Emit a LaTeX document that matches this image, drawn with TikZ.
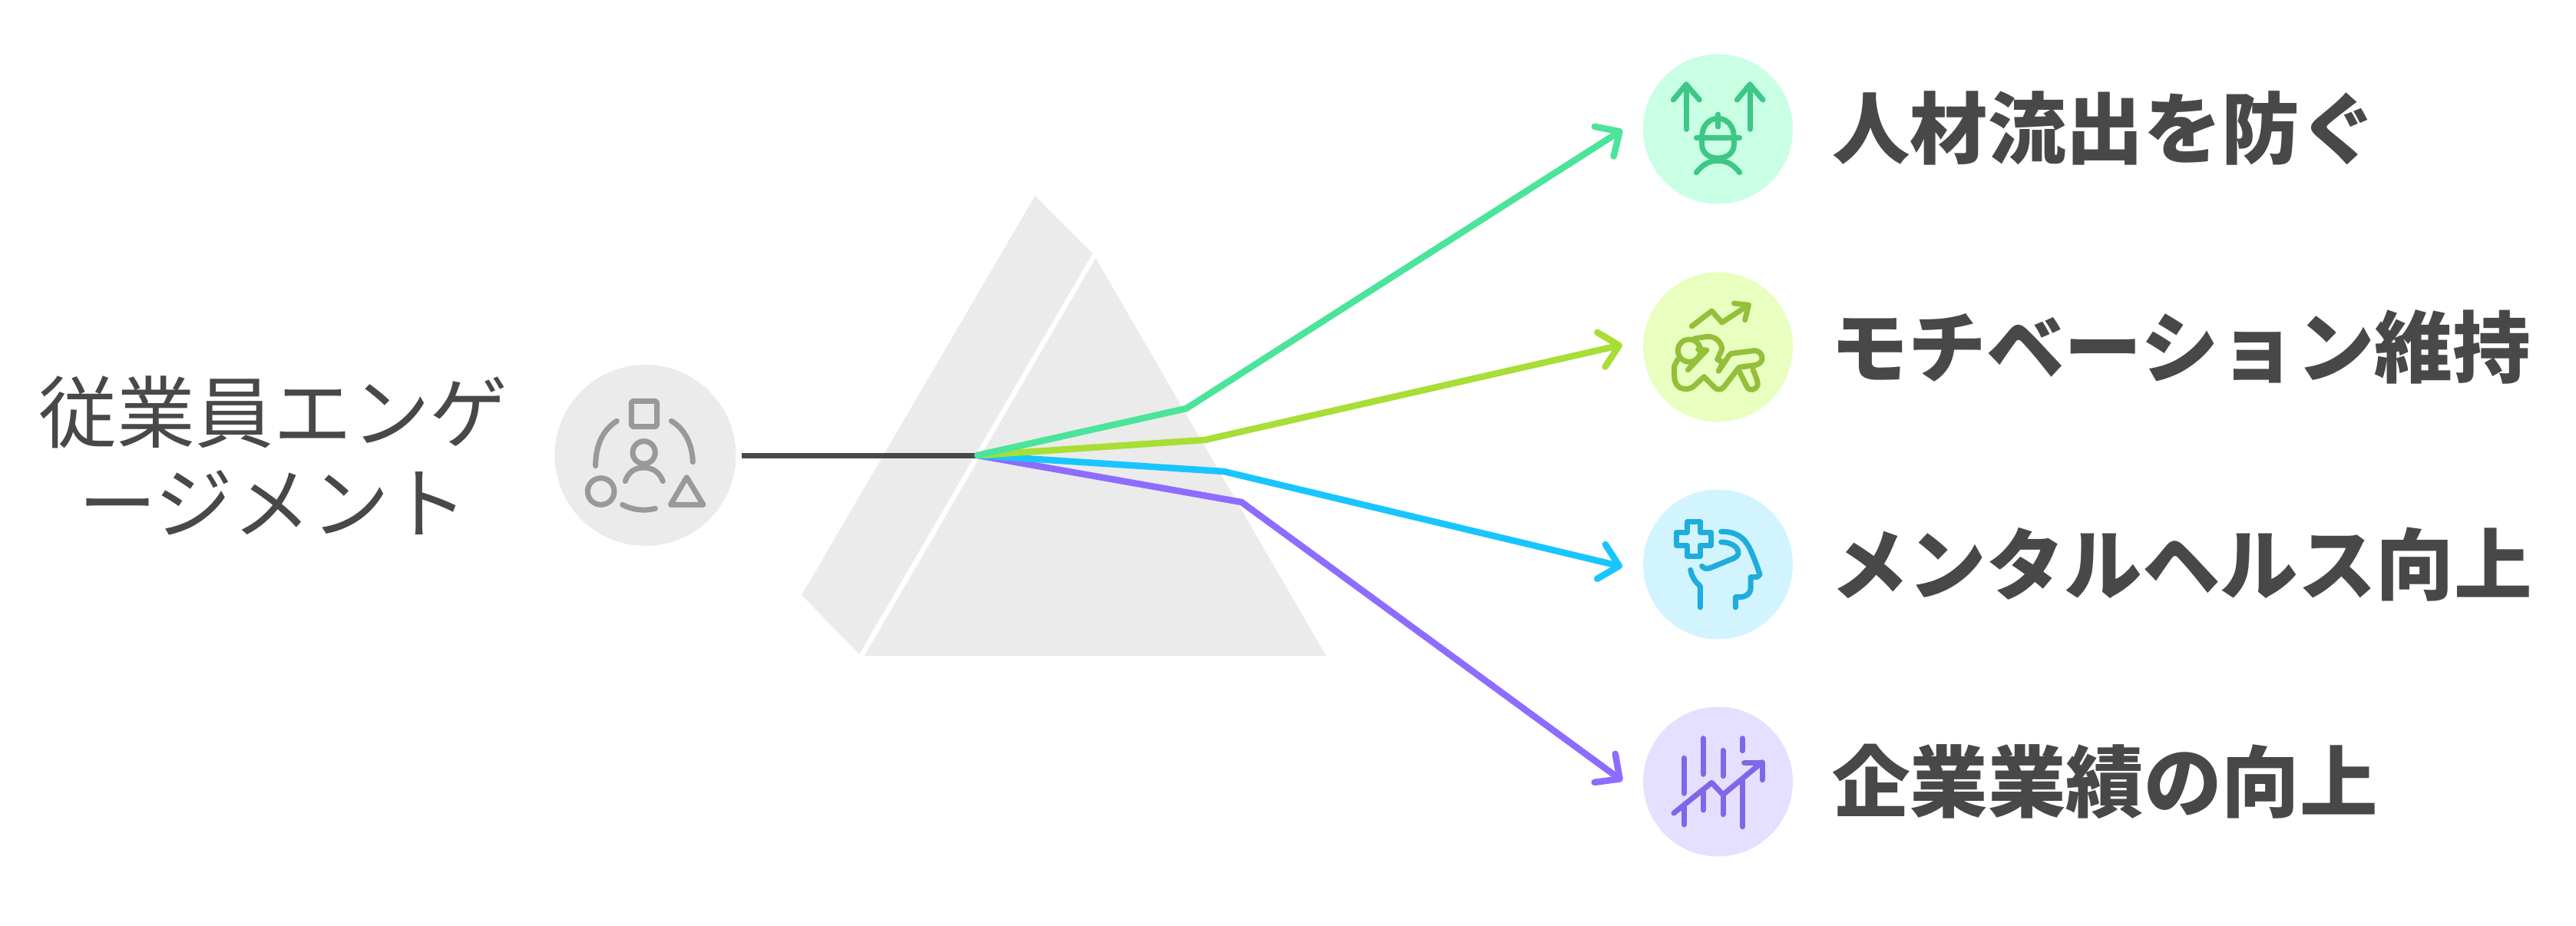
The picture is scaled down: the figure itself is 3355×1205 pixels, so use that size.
\documentclass[tikz,border=0pt]{standalone}
\usepackage{fontspec}
\usetikzlibrary{arrows.meta}
\newfontfamily\cjk{Noto Sans CJK JP}
\definecolor{txt}{HTML}{484848}
\definecolor{prism}{HTML}{EBEBEB}
\definecolor{lnG}{HTML}{4AE49A}\definecolor{bgG}{HTML}{C8FFE5}\definecolor{icG}{HTML}{3EC785}
\definecolor{lnL}{HTML}{A8DE35}\definecolor{bgL}{HTML}{E8FFBF}\definecolor{icL}{HTML}{94BF3A}
\definecolor{lnB}{HTML}{19C5FF}\definecolor{bgB}{HTML}{D2F4FF}\definecolor{icB}{HTML}{1EADDC}
\definecolor{lnP}{HTML}{8D6CFF}\definecolor{bgP}{HTML}{E5E0FF}\definecolor{icP}{HTML}{8067E8}
\definecolor{icK}{HTML}{999999}
\tikzset{
  disc/.style={circle,inner sep=0pt,minimum size=195pt,draw=none},
  ray/.style={line width=8.5pt,line join=miter,-{Straight Barb[length=24pt,width=46pt,round]}},
  iconline/.style={line width=7pt,line cap=round,line join=round,fill=none},
  head/.style={font=\cjk\bfseries\fontsize{101.5}{101.5}\selectfont,text=txt,anchor=west,inner sep=0pt},
  src/.style={font=\cjk\fontsize{102}{118}\selectfont,text=txt,align=center,inner sep=0pt},
}
\begin{document}
\begin{tikzpicture}[x=1pt,y=-1pt]
\useasboundingbox (0,0) rectangle (3355,1205);
% prism
\fill[prism] (1348,255) -- (1423,330) -- (1119,852) -- (1044,775) -- cycle;
\fill[prism] (1427,336) -- (1727,854) -- (1126,854) -- cycle;
% discs
\node[disc,minimum size=236pt,fill=prism] (s) at (840.5,593) {};
\node[disc,fill=bgG] (c1) at (2237.5,168) {};
\node[disc,fill=bgL] (c2) at (2237.5,452) {};
\node[disc,fill=bgB] (c3) at (2237.5,735) {};
\node[disc,fill=bgP] (c4) at (2237.5,1018) {};
% connector points
\coordinate (st) at (966,593);
\coordinate (j) at (1273,593);
\coordinate (b1) at (1545,532);
\coordinate (b2) at (1569,573);
\coordinate (b3) at (1594,614);
\coordinate (b4) at (1617,654);
\coordinate (t1) at (2113,169);
\coordinate (t2) at (2113,449);
\coordinate (t3) at (2113,738);
\coordinate (t4) at (2113,1017);
\draw[line width=7pt,txt] (st) -- (j);
\draw[ray,lnP] (j) -- (b4) -- (t4);
\draw[ray,lnB] (j) -- (b3) -- (t3);
\draw[ray,lnL] (j) -- (b2) -- (t2);
\draw[ray,lnG,line cap=round] (j) -- (b1) -- (t1);
% source icon
\begin{scope}[shift={(710,460)},x=0.3333pt,y=-0.3333pt,icK,iconline]
\draw[rounded corners=3pt] (337,187) rectangle (437,287);
\draw (218,540) circle[radius=52];
\draw (553,485) -- (490,592) -- (618,592) -- cycle;
\draw (386,388) circle[radius=44];
\draw (313,500) .. controls (325,465) and (350,447) .. (386,447) .. controls (420,447) and (447,465) .. (460,500);
\draw (280,265) .. controls (225,300) and (197,360) .. (197,440);
\draw (493,265) .. controls (545,295) and (575,355) .. (577,425);
\draw (302,592) .. controls (340,612) and (385,618) .. (430,607);
\end{scope}
% icon 1
\begin{scope}[shift={(2120,50)},x=0.3333pt,y=-0.3333pt,icG,iconline]
\draw (228,355) -- (228,180); \draw (178,240) -- (228,180) -- (280,240);
\draw (477,355) -- (477,180); \draw (427,240) -- (477,180) -- (528,240);
\draw (290,385) .. controls (290,345) and (315,313) .. (352,313) .. controls (390,313) and (415,345) .. (415,385) -- (415,415) .. controls (415,445) and (390,468) .. (352,468) .. controls (315,468) and (290,445) .. (290,415) -- cycle;
\draw (268,388) -- (437,388);
\draw (352,297) -- (352,345);
\draw (268,524) .. controls (295,490) and (320,478) .. (352,478) .. controls (385,478) and (410,490) .. (437,524);
\end{scope}
% icon 2
\begin{scope}[shift={(2120,340)},x=0.3333pt,y=-0.3333pt,icL,iconline]
\draw (250,255) -- (328,195) -- (368,240) -- (472,172);
\draw (415,165) -- (472,172) -- (458,230);
\draw (240,350) circle[radius=44];
\draw (260,303) -- (310,295) .. controls (345,293) and (368,320) .. (368,345) -- (350,385) -- (372,395) -- (355,430) -- (395,370) .. controls (400,362) and (405,360) .. (415,360) -- (495,350) .. controls (515,350) and (525,365) .. (525,382) .. controls (525,395) and (510,405) .. (495,407) -- (435,415) -- (385,480) .. controls (365,510) and (350,505) .. (335,490) -- (298,452) -- (268,480) .. controls (250,500) and (225,505) .. (205,495) .. controls (190,487) and (182,470) .. (182,450) -- (182,410) -- (195,385);
\draw (435,430) -- (465,490) .. controls (475,510) and (500,505) .. (507,485) .. controls (510,475) and (505,465) .. (490,425);
\draw (235,425) -- (308,348) -- (275,345);
\end{scope}
% icon 3
\begin{scope}[shift={(2120,620)},x=0.3333pt,y=-0.3333pt,icB,iconline]
\draw (232,178) -- (283,178) -- (283,220) -- (325,220) -- (325,270) -- (283,270) -- (283,313) -- (232,313) -- (232,270) -- (190,270) -- (190,220) -- (232,220) -- cycle;
\draw (365,217) .. controls (420,217) and (455,235) .. (480,290) .. controls (495,325) and (505,350) .. (516,385) -- (505,395) -- (480,395) -- (480,440) .. controls (480,460) and (460,473) .. (440,473) -- (421,473) -- (421,513);
\draw (365,258) .. controls (400,258) and (432,275) .. (432,300) .. controls (432,312) and (420,320) .. (405,325) -- (325,358) .. controls (310,365) and (298,362) .. (290,352);
\draw (245,367) .. controls (250,390) and (260,410) .. (283,430) -- (283,513);
\end{scope}
% icon 4
\begin{scope}[shift={(2120,900)},x=0.3333pt,y=-0.3333pt,icP,iconline]
\draw (220,262) -- (220,400); \draw (220,450) -- (220,522);
\draw (295,185) -- (295,325); \draw (295,395) -- (295,465);
\draw (372,232) -- (372,332); \draw (372,400) -- (372,482);
\draw (448,185) -- (448,233); \draw (448,350) -- (448,530);
\draw (180,477) -- (328,358) -- (372,405) -- (525,278);
\draw (455,280) -- (525,280) -- (525,347);
\end{scope}
% text
\node[src] (lab) at (356,593) {従業員エンゲ\\ージメント};
\node[head] (l1) at (2386,167) {人材流出を防ぐ};
\node[head] (l2) at (2384,452) {モチベーション維持};
\node[head] (l3) at (2384,735) {メンタルヘルス向上};
\node[head] (l4) at (2386,1018) {企業業績の向上};
\end{tikzpicture}
\end{document}
